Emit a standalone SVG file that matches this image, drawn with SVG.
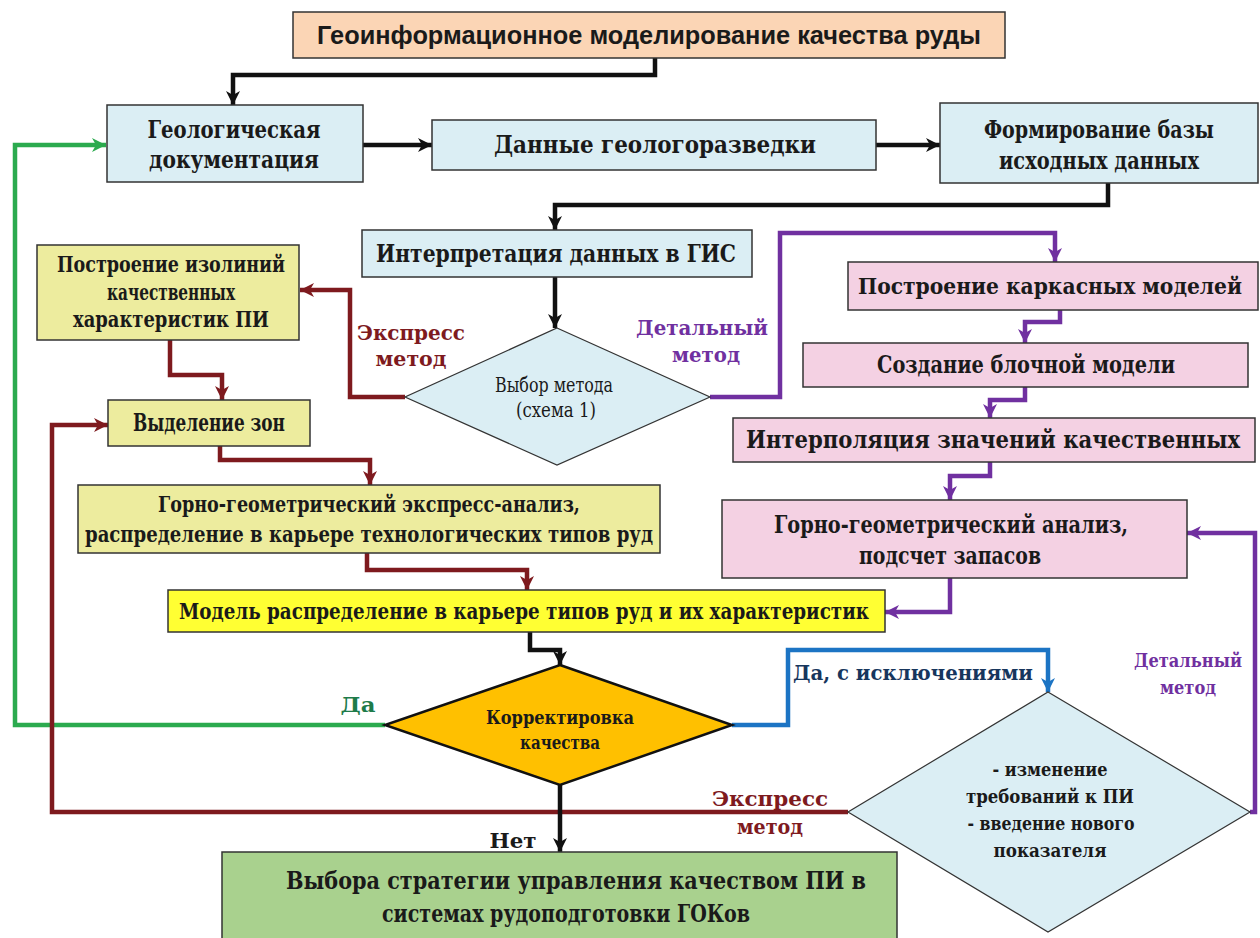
<svg xmlns="http://www.w3.org/2000/svg" width="1260" height="938" viewBox="0 0 1260 938">
<style>
.t{font-family:'DejaVu Serif Condensed','DejaVu Serif','Liberation Serif',serif;font-weight:bold;fill:#1a1a1a;text-anchor:middle}
.l{font-family:'DejaVu Serif Condensed','DejaVu Serif','Liberation Serif',serif;font-weight:bold;text-anchor:middle}
.box{stroke:#333;stroke-width:1.5}
.blue{fill:#DBEEF4}
.pale{fill:#EDEC9E}
.pink{fill:#F4D1E3}
.c{fill:none;stroke-width:4.5;stroke-linejoin:miter}
.k{stroke:#111}
.r{stroke:#7E1A1E}
.g{stroke:#2BAA4E}
.p{stroke:#7030A0}
.b{stroke:#1C74C4}
</style>
<defs>
<marker id="ak" markerUnits="userSpaceOnUse" markerWidth="16" markerHeight="16" refX="14" refY="8" orient="auto"><path d="M0,1 L14,8 L0,15 L4,8 z" fill="#111"/></marker>
<marker id="ar" markerUnits="userSpaceOnUse" markerWidth="16" markerHeight="16" refX="14" refY="8" orient="auto"><path d="M0,1 L14,8 L0,15 L4,8 z" fill="#7E1A1E"/></marker>
<marker id="ag" markerUnits="userSpaceOnUse" markerWidth="16" markerHeight="16" refX="14" refY="8" orient="auto"><path d="M0,1 L14,8 L0,15 L4,8 z" fill="#2BAA4E"/></marker>
<marker id="ap" markerUnits="userSpaceOnUse" markerWidth="16" markerHeight="16" refX="14" refY="8" orient="auto"><path d="M0,1 L14,8 L0,15 L4,8 z" fill="#7030A0"/></marker>
<marker id="ab" markerUnits="userSpaceOnUse" markerWidth="16" markerHeight="16" refX="14" refY="8" orient="auto"><path d="M0,1 L14,8 L0,15 L4,8 z" fill="#1C74C4"/></marker>
</defs>
<rect width="1260" height="938" fill="#fff"/>

<g id="connectors">
<path class="c k" d="M655,58 V75 H233 V105" marker-end="url(#ak)"/>
<path class="c k" d="M362,145 H432" marker-end="url(#ak)"/>
<path class="c k" d="M876,145 H940" marker-end="url(#ak)"/>
<path class="c k" d="M1108,183 V205 H555 V230" marker-end="url(#ak)"/>
<path class="c k" d="M555,277 V328" marker-end="url(#ak)"/>
<path class="c r" d="M405,397 H350 V290 H300" marker-end="url(#ar)"/>
<path class="c r" d="M170,340 V375 H222 V400" marker-end="url(#ar)"/>
<path class="c r" d="M220,446 V460 H370 V485" marker-end="url(#ar)"/>
<path class="c r" d="M367,553 V570 H527 V590" marker-end="url(#ar)"/>
<path class="c k" d="M530,632 V650 H560 V665" marker-end="url(#ak)"/>
<path class="c g" d="M385,725 H15 V145 H106" marker-end="url(#ag)"/>
<path class="c b" d="M732,725 H788 V650 H1048 V692" marker-end="url(#ab)"/>
<path class="c r" d="M848,812 H52 V425 H108" marker-end="url(#ar)"/>
<path class="c p" d="M1250,812 H1255 V533 H1187" marker-end="url(#ap)"/>
<path class="c p" d="M710,397 H780 V233 H1055 V262" marker-end="url(#ap)"/>
<path class="c p" d="M1060,310 V322 H1025 V343" marker-end="url(#ap)"/>
<path class="c p" d="M1025,387 V400 H990 V418" marker-end="url(#ap)"/>
<path class="c p" d="M990,462 V476 H950 V500" marker-end="url(#ap)"/>
<path class="c p" d="M950,578 V612 H885" marker-end="url(#ap)"/>
<path class="c k" d="M560,785 V852" marker-end="url(#ak)"/>
</g>

<g id="labels">
<text class="l" x="411" y="340" font-size="21" fill="#7E1A1E" textLength="108" lengthAdjust="spacingAndGlyphs">Экспресс</text>
<text class="l" x="411" y="366" font-size="21" fill="#7E1A1E" textLength="71" lengthAdjust="spacingAndGlyphs">метод</text>
<text class="l" x="702" y="335" font-size="21" fill="#7030A0" textLength="132" lengthAdjust="spacingAndGlyphs">Детальный</text>
<text class="l" x="706" y="362" font-size="21" fill="#7030A0" textLength="68" lengthAdjust="spacingAndGlyphs">метод</text>
<text class="l" x="358" y="712" font-size="21" fill="#1E7B4A" textLength="35" lengthAdjust="spacingAndGlyphs">Да</text>
<text class="l" x="913" y="680" font-size="21" fill="#17365D" textLength="240" lengthAdjust="spacingAndGlyphs">Да, с исключениями</text>
<text class="l" x="1188" y="667" font-size="19" fill="#7030A0" textLength="108" lengthAdjust="spacingAndGlyphs">Детальный</text>
<text class="l" x="1188" y="694" font-size="19" fill="#7030A0" textLength="56" lengthAdjust="spacingAndGlyphs">метод</text>
<text class="l" x="770" y="806" font-size="21" fill="#7E1A1E" textLength="116" lengthAdjust="spacingAndGlyphs">Экспресс</text>
<text class="l" x="770" y="834" font-size="21" fill="#7E1A1E" textLength="66" lengthAdjust="spacingAndGlyphs">метод</text>
<text class="l" x="513" y="848" font-size="21" fill="#1a1a1a" textLength="47" lengthAdjust="spacingAndGlyphs">Нет</text>
</g>

<g id="title">
<rect class="box" x="293" y="12" width="712" height="46" fill="#FBD5B5"/>
<text x="649" y="44" font-family="Liberation Sans, Arial, sans-serif" font-weight="bold" font-size="25" fill="#1a1a1a" text-anchor="middle" textLength="664" lengthAdjust="spacingAndGlyphs">Геоинформационное моделирование качества руды</text>
</g>
<g id="geo-doc">
<rect class="box blue" x="107" y="105" width="256" height="77"/>
<text class="t" x="234" y="138" font-size="24" textLength="173" lengthAdjust="spacingAndGlyphs">Геологическая</text>
<text class="t" x="234" y="168" font-size="24" textLength="170" lengthAdjust="spacingAndGlyphs">документация</text>
</g>
<g id="geo-data">
<rect class="box blue" x="432" y="120" width="444" height="50"/>
<text class="t" x="655" y="153" font-size="24" textLength="322" lengthAdjust="spacingAndGlyphs">Данные геологоразведки</text>
</g>
<g id="base">
<rect class="box blue" x="940" y="103" width="318" height="80"/>
<text class="t" x="1099" y="138" font-size="24" textLength="230" lengthAdjust="spacingAndGlyphs">Формирование базы</text>
<text class="t" x="1099" y="169" font-size="24" textLength="200" lengthAdjust="spacingAndGlyphs">исходных данных</text>
</g>
<g id="gis">
<rect class="box blue" x="362" y="230" width="390" height="47"/>
<text class="t" x="556" y="262" font-size="24" textLength="360" lengthAdjust="spacingAndGlyphs">Интерпретация данных в ГИС</text>
</g>
<g id="method">
<polygon points="557,328 710,397 557,465 405,397" fill="#DBEEF4" stroke="#333" stroke-width="1.2"/>
<text x="554" y="392" font-family="DejaVu Serif Condensed, DejaVu Serif, serif" font-size="20" fill="#1a1a1a" text-anchor="middle" textLength="118" lengthAdjust="spacingAndGlyphs">Выбор метода</text>
<text x="556" y="417" font-family="DejaVu Serif Condensed, DejaVu Serif, serif" font-size="20" fill="#1a1a1a" text-anchor="middle" textLength="80" lengthAdjust="spacingAndGlyphs">(схема 1)</text>
</g>
<g id="isolines">
<rect class="box pale" x="37" y="245" width="262" height="95"/>
<text class="t" x="171" y="272" font-size="22" textLength="228" lengthAdjust="spacingAndGlyphs">Построение изолиний</text>
<text class="t" x="171" y="300" font-size="22" textLength="128" lengthAdjust="spacingAndGlyphs">качественных</text>
<text class="t" x="171" y="327" font-size="22" textLength="196" lengthAdjust="spacingAndGlyphs">характеристик ПИ</text>
</g>
<g id="zones">
<rect class="box pale" x="108" y="400" width="202" height="46"/>
<text class="t" x="209" y="431" font-size="24" textLength="152" lengthAdjust="spacingAndGlyphs">Выделение зон</text>
</g>
<g id="express-analysis">
<rect class="box pale" x="78" y="485" width="582" height="68"/>
<text class="t" x="369" y="512" font-size="22" textLength="422" lengthAdjust="spacingAndGlyphs">Горно-геометрический экспресс-анализ,</text>
<text class="t" x="369" y="542" font-size="22" textLength="568" lengthAdjust="spacingAndGlyphs">распределение в карьере технологических типов руд</text>
</g>
<g id="model-dist">
<rect class="box" x="168" y="590" width="717" height="42" fill="#FFFF33"/>
<text class="t" x="524" y="619" font-size="22" textLength="690" lengthAdjust="spacingAndGlyphs">Модель распределение в карьере типов руд и их характеристик</text>
</g>
<g id="correction">
<polygon points="560,665 732,725 560,785 385,725" fill="#FFC000" stroke="#111" stroke-width="2.5"/>
<text class="t" x="560" y="724" font-size="19" textLength="148" lengthAdjust="spacingAndGlyphs">Корректировка</text>
<text class="t" x="560" y="749" font-size="19" textLength="80" lengthAdjust="spacingAndGlyphs">качества</text>
</g>
<g id="strategy">
<rect class="box" x="222" y="852" width="675" height="90" fill="#A9D18E"/>
<text class="t" x="576" y="889" font-size="24" textLength="580" lengthAdjust="spacingAndGlyphs">Выбора стратегии управления качеством ПИ в</text>
<text class="t" x="566" y="922" font-size="24" textLength="368" lengthAdjust="spacingAndGlyphs">системах рудоподготовки ГОКов</text>
</g>
<g id="frame">
<rect class="box pink" x="848" y="262" width="410" height="48"/>
<text class="t" x="1050" y="294" font-size="23" textLength="384" lengthAdjust="spacingAndGlyphs">Построение каркасных моделей</text>
</g>
<g id="block">
<rect class="box pink" x="803" y="343" width="445" height="44"/>
<text class="t" x="1026" y="373" font-size="24" textLength="298" lengthAdjust="spacingAndGlyphs">Создание блочной модели</text>
</g>
<g id="interp">
<rect class="box pink" x="733" y="418" width="522" height="44"/>
<text class="t" x="993" y="448" font-size="24" textLength="494" lengthAdjust="spacingAndGlyphs">Интерполяция значений качественных</text>
</g>
<g id="analysis">
<rect class="box pink" x="722" y="500" width="465" height="78"/>
<text class="t" x="951" y="533" font-size="24" textLength="354" lengthAdjust="spacingAndGlyphs">Горно-геометрический анализ,</text>
<text class="t" x="950" y="564" font-size="24" textLength="182" lengthAdjust="spacingAndGlyphs">подсчет запасов</text>
</g>
<g id="requirements">
<polygon points="1048,692 1250,812 1048,932 848,812" fill="#DBEEF4" stroke="#333" stroke-width="1.2"/>
<text class="t" x="1050" y="776" font-size="19" textLength="115" lengthAdjust="spacingAndGlyphs">- изменение</text>
<text class="t" x="1050" y="803" font-size="19" textLength="168" lengthAdjust="spacingAndGlyphs">требований к ПИ</text>
<text class="t" x="1051" y="830" font-size="19" textLength="167" lengthAdjust="spacingAndGlyphs">- введение нового</text>
<text class="t" x="1050" y="857" font-size="19" textLength="113" lengthAdjust="spacingAndGlyphs">показателя</text>
</g>
</svg>
